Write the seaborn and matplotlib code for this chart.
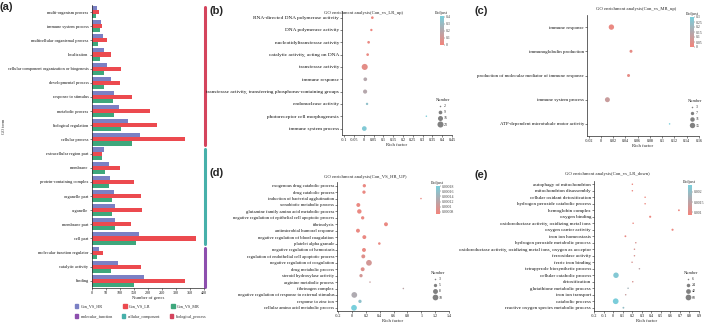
import numpy as np
import pandas as pd
import seaborn as sns
import matplotlib.pyplot as plt
from matplotlib.colors import LinearSegmentedColormap, Normalize
from matplotlib.cm import ScalarMappable
from matplotlib.patches import Patch
from matplotlib.lines import Line2D

# ---- (a) GO term counts ----
a_terms = ["multi-organism process", "immune system process", "multicellular organismal process",
           "localization", "cellular component organization or biogenesis", "developmental process",
           "response to stimulus", "metabolic process", "biological regulation", "cellular process",
           "extracellular region part", "membrane", "protein-containing complex", "organelle part",
           "organelle", "membrane part", "cell part",
           "molecular function regulator", "catalytic activity", "binding"]
a_hr = [21, 32, 42, 45, 55, 68, 81, 97, 129, 173, 46, 62, 65, 80, 82, 82, 169, 26, 95, 188]
a_lr = [27, 39, 55, 71, 106, 100, 144, 208, 234, 331, 39, 101, 152, 177, 180, 142, 373, 40, 177, 332]
a_mr = [15, 30, 24, 30, 45, 46, 75, 80, 106, 145, 37, 47, 62, 72, 72, 85, 158, 18, 70, 150]
a_series = ["Con_VS_HR", "Con_VS_LR", "Con_VS_MR"]
a_classes = ["biological_process", "cellular_component", "molecular_function"]
a_class_n = [10, 7, 3]

# ---- (b) Con_vs_LR_up ----
b_terms = ["RNA-directed DNA polymerase activity", "DNA polymerase activity",
           "nucleotidyltransferase activity", "catalytic activity, acting on DNA",
           "transferase activity", "immune response",
           "transferase activity, transferring phosphorus-containing groups",
           "endonuclease activity", "photoreceptor cell morphogenesis", "immune system process"]
b_rich = [0.043, 0.038, 0.024, 0.019, 0.004, 0.007, 0.006, 0.016, 0.319, 0.002]
b_padj = [0.02, 0.02, 0.03, 0.03, 0.05, 0.2, 0.2, 0.33, 0.4, 0.38]
b_num = [5, 4, 5, 5, 23, 9, 11, 4, 2, 14]

# ---- (c) Con_vs_MR_up ----
c_terms = ["immune response", "immunoglobulin production",
           "production of molecular mediator of immune response",
           "immune system process", "ATP-dependent microtubule motor activity"]
c_rich = [0.017, 0.049, 0.045, 0.0105, 0.112]
c_padj = [0.02, 0.03, 0.03, 0.1, 0.3]
c_num = [15, 6, 6, 13, 3]

# ---- (d) Con_VS_HR_UP ----
d_terms = ["exogenous drug catabolic process", "drug catabolic process",
           "induction of bacterial agglutination", "xenobiotic metabolic process",
           "glutamine family amino acid metabolic process",
           "negative regulation of epithelial cell apoptotic process", "fibrinolysis",
           "antimicrobial humoral response", "negative regulation of blood coagulation",
           "platelet alpha granule", "negative regulation of hemostasis",
           "regulation of endothelial cell apoptotic process", "negative regulation of coagulation",
           "drug metabolic process", "steroid hydroxylase activity", "arginine metabolic process",
           "fibrinogen complex", "negative regulation of response to external stimulus",
           "response to zinc ion", "cellular amino acid metabolic process"]
d_rich = [0.176, 0.171, 0.995, 0.089, 0.104, 0.152, 0.489, 0.084, 0.176, 0.393,
          0.171, 0.161, 0.243, 0.152, 0.128, 0.258, 0.74, 0.031, 0.113, 0.027]
d_padj = [0.00008, 0.00008, 0.00008, 0.00008, 0.00008, 0.00008, 0.00008, 0.00008, 0.00008, 0.00008,
          0.00008, 0.00009, 0.0001, 0.00009, 0.0001, 0.00011, 0.00012, 0.00013, 0.00016, 0.00018]
d_num = [5, 5, 3, 6, 7, 5, 6, 6, 6, 4, 6, 6, 10, 6, 5, 3, 3, 10, 5, 10]

# ---- (e) Con_vs_LR_down ----
e_terms = ["autophagy of mitochondrion", "mitochondrion disassembly", "cellular oxidant detoxification",
           "hydrogen peroxide catabolic process", "hemoglobin complex", "oxygen binding",
           "oxidoreductase activity, oxidizing metal ions", "oxygen carrier activity",
           "iron ion homeostasis", "hydrogen peroxide metabolic process",
           "oxidoreductase activity, oxidizing metal ions, oxygen as acceptor", "ferroxidase activity",
           "ferric iron binding", "tetrapyrrole biosynthetic process", "cellular catabolic process",
           "detoxification", "glutathione metabolic process", "iron ion transport", "catabolic process",
           "reactive oxygen species metabolic process"]
e_rich = [0.2, 0.2, 0.334, 0.334, 0.689, 0.387, 0.208, 0.622, 0.127, 0.236,
          0.222, 0.222, 0.197, 0.274, 0.028, 0.204, 0.155, 0.13, 0.025, 0.106]
e_padj = [0.00095, 0.00095, 0.00095, 0.00095, 0.00095, 0.00095, 0.00095, 0.00095, 0.001, 0.0012,
          0.0012, 0.0012, 0.0012, 0.0015, 0.0022, 0.0012, 0.0018, 0.0014, 0.0023, 0.002]
e_num = [6, 6, 6, 6, 8, 10, 6, 10, 8, 6, 6, 6, 6, 6, 55, 6, 6, 6, 60, 8]

sns.set_theme(style="ticks")
plt.rcParams["font.family"] = ["Liberation Serif", "DejaVu Serif"]

W, H = 709, 325
fig = plt.figure(figsize=(W / 100, H / 100), dpi=100)


def box(x0, y0, x1, y1):
    return [x0 / W, 1 - y1 / H, (x1 - x0) / W, (y1 - y0) / H]


def ftext(x, y, s, **kw):
    fig.text(x / W, 1 - y / H, s, ha=kw.pop("ha", "center"), va=kw.pop("va", "center"), **kw)


def style_axes(ax, yfs, xfs=3.0):
    sns.despine(ax=ax)
    for sp in ("left", "bottom"):
        ax.spines[sp].set_linewidth(0.5)
    ax.tick_params(axis="y", labelsize=yfs, length=1.3, width=0.4, pad=0.8, labelcolor="#111111")
    ax.tick_params(axis="x", labelsize=xfs, length=1.3, width=0.4, pad=0.8, labelcolor="#111111")
    ax.set_facecolor("none")


# ================= (a) =================
bar_colors = ["#7b80c4", "#ec4a4f", "#3ea77c"]
class_colors = {"biological_process": "#d4445d", "cellular_component": "#47b0aa",
                "molecular_function": "#8d4fae"}
df_a = pd.DataFrame({
    "term": np.tile(a_terms, 3),
    "genes": a_hr + a_lr + a_mr,
    "series": np.repeat(a_series, len(a_terms)),
})
ax_a = fig.add_axes(box(91.5, 5, 204, 288))
sns.barplot(data=df_a, y="term", x="genes", hue="series", orient="h", order=a_terms,
            hue_order=a_series, palette=bar_colors, width=0.86, saturation=1, linewidth=0,
            legend=False, ax=ax_a)
ax_a.set_ylim(len(a_terms) - 0.5, -0.5)
ax_a.set_xlim(0, 400)
ax_a.set_xticks(np.arange(0, 401, 50))
ax_a.set_ylabel("GO term", fontsize=3.2)
ax_a.yaxis.set_label_coords(-0.76, 0.57)
ax_a.set_xlabel("Number of genes", fontsize=3.4, labelpad=0.8)
style_axes(ax_a, 3.2)

# class side bars
trans = ax_a.get_yaxis_transform()
start = 0
for cls, n in zip(a_classes, a_class_n):
    ax_a.plot([1.01, 1.01], [start - 0.35, start + n - 0.6], transform=trans, color=class_colors[cls],
              lw=2.2, solid_capstyle="round", clip_on=False)
    start += n

fig.legend(handles=[Patch(color=c, label=s) for c, s in zip(bar_colors, a_series)],
           loc="center left", bbox_to_anchor=(75 / W, 1 - 306.5 / H, 125 / W, 0.001), mode="expand",
           ncol=3, frameon=False, fontsize=3.0, handlelength=0.8, handleheight=0.9,
           handletextpad=0.6, borderpad=0, borderaxespad=0)
fig.legend(handles=[Patch(color=class_colors[c], label=c) for c in reversed(a_classes)],
           loc="center left", bbox_to_anchor=(75 / W, 1 - 316.7 / H, 131 / W, 0.001), mode="expand",
           ncol=3, frameon=False, fontsize=3.0, handlelength=0.8, handleheight=0.9,
           handletextpad=0.6, borderpad=0, borderaxespad=0)

# ================= dot panels =================
cmap = LinearSegmentedColormap.from_list("padj", ["#f3847b", "#b3a8ad", "#79cfdc"])


def dot_panel(rect, terms, rich, padj, num, xlim, xticks, padj_lim, padj_ticks, padj_labels,
              num_ticks, sizes, yfs, cbar_rect, leg_xy):
    ax = fig.add_axes(box(*rect))
    df = pd.DataFrame({"term": terms, "rich": rich, "padj": padj, "num": num})
    sns.scatterplot(data=df, x="rich", y="term", hue="padj", size="num", palette=cmap,
                    hue_norm=padj_lim, sizes=sizes, size_norm=(num_ticks[0], num_ticks[-1]),
                    linewidth=0, legend=False, ax=ax, zorder=3)
    ax.set_ylim(len(terms) - 0.5, -0.5)
    ax.set_xlim(*xlim)
    ax.set_xticks(xticks)
    ax.set_xticklabels([f"{v:g}" for v in xticks])
    ax.set_ylabel("")
    ax.set_xlabel("Rich factor", fontsize=3.4, labelpad=0.8)
    style_axes(ax, yfs)

    cax = fig.add_axes(box(*cbar_rect))
    cb = fig.colorbar(ScalarMappable(Normalize(*padj_lim), cmap), cax=cax)
    cb.outline.set_visible(False)
    cb.set_ticks(padj_ticks)
    cb.set_ticklabels(padj_labels)
    cax.tick_params(labelsize=2.8, length=0.8, width=0.3, pad=0.8, colors="#444444")
    cax.set_title("Padjust", fontsize=3.2, pad=1.5, color="#333333")

    smin, smax = sizes
    handles = []
    for n in num_ticks:
        s = smin + (n - num_ticks[0]) / (num_ticks[-1] - num_ticks[0]) * (smax - smin)
        handles.append(Line2D([], [], ls="", marker="o", markersize=np.sqrt(s), color="#808080",
                              markeredgewidth=0, label=str(n)))
    fig.legend(handles=handles, title="Number", loc="upper left",
               bbox_to_anchor=(leg_xy[0] / W, 1 - leg_xy[1] / H), frameon=False, fontsize=2.8,
               title_fontsize=3.2, labelspacing=0.55, handlelength=0.8, handletextpad=0.5,
               borderpad=0, borderaxespad=0)
    return ax


dot_panel((342, 11.5, 452, 134.7), b_terms, b_rich, b_padj, b_num, (-0.112, 0.45),
          np.round(np.arange(-0.1, 0.451, 0.05), 2), (0, 0.41), [0, 0.1, 0.2, 0.3, 0.4],
          ["0", "0.1", "0.2", "0.3", "0.4"], [2, 9, 16, 23], (1.2, 19), 3.8,
          (440, 16, 443.5, 45), (436, 98))
dot_panel((587, 15, 699, 136), c_terms, c_rich, c_padj, c_num, (-0.0228, 0.16),
          np.round(np.arange(-0.02, 0.161, 0.02), 2), (0, 0.3),
          [0, 0.05, 0.1, 0.15, 0.2, 0.25, 0.3], ["0", "0.05", "0.1", "0.15", "0.2", "0.25", "0.3"],
          [3, 7, 11, 15], (1.2, 15), 3.5, (690, 17, 694, 47), (688, 99))
dot_panel((337, 182.5, 449, 311), d_terms, d_rich, d_padj, d_num, (-0.219, 1.4),
          np.round(np.arange(-0.2, 1.41, 0.2), 1), (0.000072, 0.00018),
          [0.00008, 0.0001, 0.00012, 0.00014, 0.00016, 0.00018],
          ["0.00008", "0.0001", "0.00012", "0.00014", "0.00016", "0.00018"],
          [3, 5, 8, 10], (1.2, 17), 3.3, (436, 186, 439.5, 214), (431, 271))
dot_panel((594, 181, 699, 311), e_terms, e_rich, e_padj, e_num, (-0.203, 0.9),
          np.round(np.arange(-0.2, 0.91, 0.1), 1), (0.00087, 0.00233), [0.001, 0.0015, 0.002],
          ["0.001", "0.0015", "0.002"], [6, 24, 42, 60], (1.2, 17), 3.6,
          (688, 185, 691.5, 215), (684, 271))

# titles
ftext(363, 13.3, "GO enrichment analysis(Con_vs_LR_up)", fontsize=3.4)
ftext(636, 9, "GO enrichment analysis(Con_vs_MR_up)", fontsize=3.4)
ftext(365, 176.7, "GO enrichment analysis(Con_VS_HR_UP)", fontsize=3.4)
ftext(607, 174.3, "GO enrichment analysis(Con_vs_LR_down)", fontsize=3.4)

# panel letters
for lab, x, y in [("(a)", 0, 7.5), ("(b)", 210, 10.5), ("(c)", 475, 11), ("(d)", 210, 173), ("(e)", 475, 175)]:
    ftext(x, y, lab, ha="left", fontsize=8, fontweight="bold", family="Liberation Sans")

fig.savefig("out.png", dpi=100, facecolor="white")
